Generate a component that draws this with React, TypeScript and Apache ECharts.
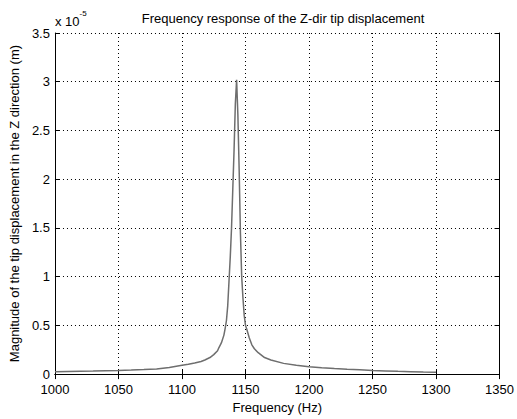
import React, { useEffect, useRef } from "react";
import * as echarts from "echarts";

// Frequency (Hz)
const frequencies = [
  1000, 1010, 1020, 1030, 1040, 1050, 1060, 1070, 1080, 1090, 1100, 1105, 1110, 1115, 1118,
  1122, 1125, 1128, 1129, 1131, 1133, 1134, 1135, 1136, 1137, 1138, 1139, 1140, 1141, 1142,
  1143, 1144, 1145, 1146, 1147, 1148, 1149, 1150, 1151, 1153, 1155, 1157, 1160, 1165, 1170,
  1180, 1190, 1200, 1210, 1220, 1230, 1240, 1250, 1260, 1270, 1280, 1290, 1300,
];
// Magnitude (x 1e-5 m)
const magnitudes = [
  0.025, 0.027, 0.029, 0.031, 0.034, 0.037, 0.041, 0.046, 0.053, 0.068, 0.09, 0.1, 0.113, 0.13, 0.145,
  0.17, 0.2, 0.24, 0.27, 0.32, 0.4, 0.47, 0.55, 0.7, 0.95, 1.2, 1.5, 1.9, 2.3, 2.77,
  3.02, 2.66, 2.1, 1.45, 1.0, 0.78, 0.6, 0.5, 0.46, 0.37, 0.3, 0.26, 0.22, 0.17, 0.145,
  0.11, 0.09, 0.075, 0.065, 0.057, 0.05, 0.044, 0.038, 0.033, 0.028, 0.025, 0.022, 0.02,
];
const yTickLabels = ["0", "0.5", "1", "1.5", "2", "2.5", "3", "3.5"];

const FONT = "Liberation Sans, Arial, sans-serif";

export default function App() {
  const ref = useRef<HTMLDivElement>(null);
  useEffect(() => {
    if (!ref.current) return;
    const chart = echarts.init(ref.current, undefined, { renderer: "svg" });
    const data = frequencies.map((f, i) => [f, magnitudes[i]]);
    const frameAxis = {
      show: true,
      lineStyle: { color: "#000", width: 1 },
    };
    const tick = { show: true, inside: true, length: 5, lineStyle: { color: "#000" } };
    chart.setOption({
      animation: false,
      backgroundColor: "#fff",
      textStyle: { fontFamily: FONT },
      title: {
        text: "Frequency response of the Z-dir tip displacement",
        left: 278,
        top: 7,
        textAlign: "center",
        textStyle: { fontFamily: FONT, fontSize: 13, fontWeight: "normal", color: "#000" },
      },
      graphic: [
        {
          type: "text",
          left: 55,
          top: 9,
          style: {
            text: "{a|x 10}{b|-5}",
            rich: {
              a: { fontFamily: FONT, fontSize: 13, fill: "#000", verticalAlign: "bottom", lineHeight: 19 },
              b: { fontFamily: FONT, fontSize: 8, fill: "#000", verticalAlign: "top", lineHeight: 10 },
            },
          },
        },
      ],
      grid: { left: 54, top: 33, right: 12, bottom: 40, containLabel: false },
      xAxis: [
        {
          type: "value",
          min: 1000,
          max: 1350,
          interval: 50,
          position: "bottom",
          axisLine: frameAxis,
          axisTick: tick,
          axisLabel: {
            color: "#000",
            fontSize: 13,
            fontFamily: FONT,
            margin: 9,
            formatter: (v: number) => String(v),
          },
          splitLine: { show: true, lineStyle: { color: "#000", type: [1, 3], width: 1 } },
          name: "Frequency (Hz)",
          nameLocation: "middle",
          nameGap: 26,
          nameTextStyle: { color: "#000", fontSize: 13, fontFamily: FONT },
        },
        {
          type: "value",
          min: 1000,
          max: 1350,
          interval: 50,
          position: "top",
          axisLine: frameAxis,
          axisTick: tick,
          axisLabel: { show: false },
          splitLine: { show: false },
        },
      ],
      yAxis: [
        {
          type: "value",
          min: 0,
          max: 3.5,
          interval: 0.5,
          position: "left",
          axisLine: frameAxis,
          axisTick: tick,
          axisLabel: {
            color: "#000",
            fontSize: 13,
            fontFamily: FONT,
            margin: 5,
            formatter: (v: number) => yTickLabels[Math.round(v / 0.5)] ?? String(v),
          },
          splitLine: { show: true, lineStyle: { color: "#000", type: [1, 3], width: 1 } },
          name: "Magnitude of the tip displacement in the Z direction (m)",
          nameLocation: "middle",
          nameGap: 33,
          nameTextStyle: { color: "#000", fontSize: 13, fontFamily: FONT },
        },
        {
          type: "value",
          min: 0,
          max: 3.5,
          interval: 0.5,
          position: "right",
          axisLine: frameAxis,
          axisTick: tick,
          axisLabel: { show: false },
          splitLine: { show: false },
        },
      ],
      series: [
        {
          type: "line",
          data,
          showSymbol: false,
          symbol: "none",
          lineStyle: { color: "#6e6e6e", width: 1.5 },
          z: 3,
        },
      ],
    });
    return () => chart.dispose();
  }, []);
  return <div ref={ref} style={{ width: 517, height: 419, position: "fixed", left: 0, top: 0 }} />;
}
